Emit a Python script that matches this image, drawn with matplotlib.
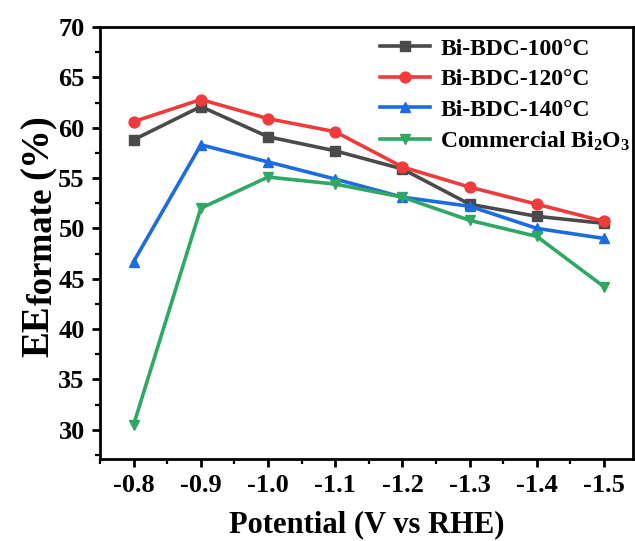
import numpy as np
import matplotlib
matplotlib.use("Agg")
import matplotlib.pyplot as plt
from matplotlib.ticker import MultipleLocator

plt.rcParams["font.family"] = ["Liberation Serif", "DejaVu Serif"]
plt.rcParams["font.weight"] = "bold"
plt.rcParams["mathtext.fontset"] = "custom"
plt.rcParams["mathtext.rm"] = "Liberation Serif:bold"
plt.rcParams["mathtext.it"] = "Liberation Serif:bold"
plt.rcParams["mathtext.bf"] = "Liberation Serif:bold"

potential = [-0.8, -0.9, -1.0, -1.1, -1.2, -1.3, -1.4, -1.5]
ee_100 = [58.8, 62.1, 59.1, 57.7, 55.9, 52.4, 51.2, 50.5]
ee_120 = [60.6, 62.8, 60.9, 59.6, 56.1, 54.1, 52.4, 50.7]
ee_140 = [46.7, 58.3, 56.6, 54.9, 53.1, 52.2, 50.0, 49.0]
ee_bi2o3 = [30.5, 52.0, 55.1, 54.4, 53.1, 50.8, 49.2, 44.2]

series = [
    (ee_100, "Bi-BDC-100°C", "#4a4a4a", "s"),
    (ee_120, "Bi-BDC-120°C", "#ef3b3b", "o"),
    (ee_140, "Bi-BDC-140°C", "#1c6be0", "^"),
    (ee_bi2o3, "Commercial Bi$_2$O$_3$", "#30a865", "v"),
]

fig = plt.figure(figsize=(6.35, 5.41), dpi=100)
ax = fig.add_axes([100 / 635, 1 - 459 / 541, 533 / 635, 432 / 541])

for vals, label, color, marker in series:
    ax.plot(potential, vals, color=color, marker=marker, lw=2.6, ms=7.8, label=label)

ax.set_xlim(-0.75, -1.543)
ax.set_ylim(27.1, 70)
ax.xaxis.set_minor_locator(MultipleLocator(0.05))
ax.yaxis.set_major_locator(MultipleLocator(5))
ax.yaxis.set_minor_locator(MultipleLocator(2.5))
ax.set_xticks(potential)
ax.set_xticklabels([f"{p:.1f}" for p in potential])

ax.tick_params(which="major", direction="out", length=6, width=2, labelsize=19, pad=5)
ax.tick_params(which="minor", direction="out", length=3.5, width=1.6)
for sp in ax.spines.values():
    sp.set_linewidth(2)

ax.set_xlabel("Potential (V vs RHE)", fontsize=22, fontweight="bold", labelpad=9)

# y label: EE with a subscript "formate", built from pieces
base_x = 48 / 635
t1 = fig.text(base_x, 1 - 357 / 541, "EE", rotation=90, rotation_mode="anchor",
              ha="left", va="baseline", fontsize=28, fontweight="bold")
t2 = ax.annotate("formate", xy=(base_x + 4 / 635, 1), xycoords=("figure fraction", t1),
                 rotation=90, rotation_mode="anchor", ha="left", va="baseline",
                 fontsize=25, fontweight="bold", annotation_clip=False)
t3 = ax.annotate("(%)", xy=(base_x, 1), xycoords=("figure fraction", t2),
                 xytext=(0, 6), textcoords="offset points",
                 rotation=90, rotation_mode="anchor", ha="left", va="baseline",
                 fontsize=28, fontweight="bold", annotation_clip=False)

ax.legend(loc="upper left", frameon=False, fontsize=17, handlelength=2.1,
          handletextpad=0.45, borderpad=0, borderaxespad=0, labelspacing=0.38,
          bbox_to_anchor=(380 / 635, 1 - 38 / 541), bbox_transform=fig.transFigure)

fig.savefig("out.png", dpi=100)
